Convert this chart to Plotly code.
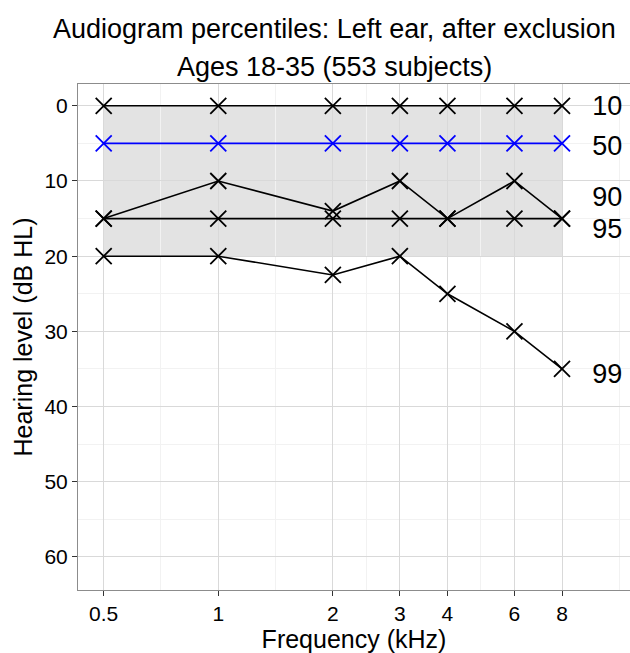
import math
import plotly.graph_objects as go

# ---- data ----
freqs_khz = [0.5, 1, 2, 3, 4, 6, 8]
freq_tick_labels = ["0.5", "1", "2", "3", "4", "6", "8"]
p10 = [0, 0, 0, 0, 0, 0, 0]
p50 = [5, 5, 5, 5, 5, 5, 5]
p90 = [15, 10, 14, 10, 15, 10, 15]
p95 = [15, 15, 15, 15, 15, 15, 15]
p99 = [20, 20, 22.5, 20, 25, 30, 35]
percentile_names = ["10", "50", "90", "95", "99"]
label_y = [0.3, 5.6, 12.4, 16.7, 36]      # repelled label positions
series_colors = ["black", "#0000ff", "black", "black", "black"]
band_x = [0.5, 8]
band_y = [0, 20]
y_ticks = [0, 10, 20, 30, 40, 50, 60]
y_minor = [-5, 5, 15, 25, 35, 45, 55, 65]

FONT = "Liberation Sans, Arial, sans-serif"

fig = go.Figure()

# normal-hearing band
fig.add_shape(type="rect", xref="x", yref="y",
              x0=band_x[0], x1=band_x[1], y0=band_y[0], y1=band_y[1],
              fillcolor="#e3e3e3", line=dict(width=0), layer="below")

series = [p10, p50, p90, p95, p99]
for name, vals, col in zip(percentile_names, series, series_colors):
    fig.add_trace(go.Scatter(
        x=freqs_khz, y=vals, mode="lines+markers", name=name,
        line=dict(color=col, width=1.6),
        marker=dict(symbol="x-thin-open", size=16,
                    line=dict(color=col, width=1.8), color=col),
        showlegend=False, cliponaxis=False))

fig.add_trace(go.Scatter(
    x=[9.6] * len(percentile_names), y=label_y, mode="text",
    text=percentile_names, textposition="middle right",
    textfont=dict(size=27, color="black", family=FONT),
    showlegend=False, cliponaxis=False, hoverinfo="skip"))

# minor breaks at geometric midpoints
major_ext = [0.25] + freqs_khz + [16]
x_minor = [math.sqrt(a * b) for a, b in zip(major_ext[:-1], major_ext[1:])
           if b / a > 1.4]

fig.update_layout(
    width=630, height=653,
    margin=dict(l=78, r=0, t=84, b=63),
    paper_bgcolor="white", plot_bgcolor="white",
    font=dict(family=FONT, color="black"),
    annotations=[
        dict(text="Audiogram percentiles: Left ear, after exclusion",
             xref="paper", yref="paper", x=0.465, y=1.0, yshift=55,
             xanchor="center", yanchor="middle", showarrow=False,
             font=dict(size=27, color="black", family=FONT)),
        dict(text="Ages 18-35 (553 subjects)",
             xref="paper", yref="paper", x=0.465, y=1.0, yshift=17,
             xanchor="center", yanchor="middle", showarrow=False,
             font=dict(size=27, color="black", family=FONT)),
    ],
)

fig.update_xaxes(
    type="log", range=[math.log10(0.428), math.log10(12.07)],
    tickvals=freqs_khz, ticktext=freq_tick_labels,
    tickfont=dict(size=21, color="black"),
    ticks="outside", ticklen=5, tickcolor="#333333", tickwidth=1,
    showgrid=True, gridcolor="#d9d9d9", gridwidth=1,
    minor=dict(tickvals=x_minor, showgrid=True, gridcolor="#f2f2f2",
               gridwidth=1, ticks=""),
    showline=True, linecolor="#8c8c8c", linewidth=1, mirror=True,
    zeroline=False,
    title=dict(text="Frequency (kHz)", font=dict(size=25, color="black"),
               standoff=4),
)
fig.update_yaxes(
    autorange=False, range=[64.4, -2.9],
    tickvals=y_ticks,
    tickfont=dict(size=21, color="black"),
    ticks="outside", ticklen=5, tickcolor="#333333", tickwidth=1,
    showgrid=True, gridcolor="#d9d9d9", gridwidth=1,
    minor=dict(tickvals=y_minor, showgrid=True, gridcolor="#f2f2f2",
               gridwidth=1, ticks=""),
    showline=True, linecolor="#8c8c8c", linewidth=1, mirror=True,
    zeroline=False,
    title=dict(text="Hearing level (dB HL)", font=dict(size=25, color="black"),
               standoff=4),
)

fig.write_html("out.html",
               config={"displayModeBar": False},
               post_script="document.body.style.margin='0';"
                           "document.body.style.overflow='hidden';")
